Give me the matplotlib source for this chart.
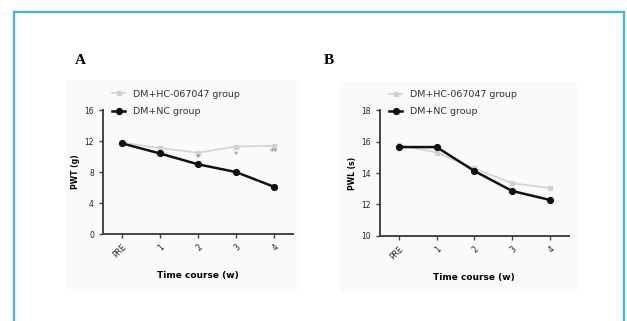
import matplotlib.pyplot as plt
from matplotlib.patches import Rectangle
from matplotlib.lines import Line2D

# data
time_labels = ["PRE", "1", "2", "3", "4"]
pwt_hc = [11.8, 11.1, 10.5, 11.3, 11.4]
pwt_nc = [11.7, 10.4, 9.0, 8.0, 6.1]
pwt_sig = ["", "", "*", "*", "**"]
pwt_sig_y = [None, None, 9.7, 10.2, 10.5]
pwl_hc = [15.8, 15.3, 14.3, 13.35, 13.05]
pwl_nc = [15.65, 15.65, 14.13, 12.86, 12.29]

HC_COLOR = "#d2d2d2"
NC_COLOR = "#111111"
AX_COLOR = "#444444"
FS = 5.5

fig = plt.figure(figsize=(6.27, 3.21), dpi=100)

# blue frame
for xs, ys in [([0.0223, 0.0223], [0, 0.963]), ([0.0223, 0.995], [0.963, 0.963]),
               ([0.995, 0.995], [0, 0.963])]:
    fig.add_artist(Line2D(xs, ys, color="#3bb4e6", lw=1.6, transform=fig.transFigure))

# faint panel backgrounds
fig.add_artist(Rectangle((66 / 627, 1 - 288 / 321), 232 / 627, 208 / 321,
                         transform=fig.transFigure, color="#fafafa", zorder=0))
fig.add_artist(Rectangle((340 / 627, 1 - 290 / 321), 236 / 627, 208 / 321,
                         transform=fig.transFigure, color="#fafafa", zorder=0))

ax_a = fig.add_axes([0.1643, 0.271, 0.303, 0.386])
ax_b = fig.add_axes([0.606, 0.265, 0.301, 0.392])

x = list(range(len(time_labels)))


def style(ax, hc, nc, ylim, yticks, ylabel):
    ax.set_facecolor("none")
    ax.plot(x, hc, color=HC_COLOR, marker="s", ms=3.5, lw=1.2,
            label="DM+HC-067047 group", zorder=2)
    ax.plot(x, nc, color=NC_COLOR, marker="o", ms=4.2, lw=1.8,
            label="DM+NC group", zorder=3)
    ax.set_xlim(-0.5, 4.5)
    ax.set_ylim(*ylim)
    ax.set_yticks(yticks)
    ax.set_xticks(x)
    ax.set_xticklabels(time_labels, rotation=45, ha="right", rotation_mode="anchor")
    for s in ["top", "right"]:
        ax.spines[s].set_visible(False)
    for s in ["left", "bottom"]:
        ax.spines[s].set_linewidth(1.4)
        ax.spines[s].set_color(AX_COLOR)
    ax.tick_params(labelsize=FS, length=3, width=1, colors=AX_COLOR, labelcolor="#222222")
    ax.set_ylabel(ylabel, fontsize=FS, fontweight="bold", labelpad=3)
    ax.set_xlabel("Time course (w)", fontsize=6.5, fontweight="bold", labelpad=8)
    leg = ax.legend(loc="lower left", bbox_to_anchor=(0.03, 0.92), frameon=False,
                    fontsize=6.8, handlelength=1.3, handletextpad=0.9,
                    labelspacing=0.9, borderaxespad=0)
    for t in leg.get_texts():
        t.set_color("#333333")


style(ax_a, pwt_hc, pwt_nc, (0, 16), [0, 4, 8, 12, 16], "PWT (g)")
style(ax_b, pwl_hc, pwl_nc, (10, 18), [10, 12, 14, 16, 18], "PWL (s)")

for xi, s, yv in zip(x, pwt_sig, pwt_sig_y):
    if s:
        ax_a.text(xi, yv, s, ha="center", va="center", fontsize=6, color="#777777")

fig.text(75 / 627, 1 - 60 / 321, "A", fontsize=11, fontweight="bold",
         family="Liberation Serif", va="center")
fig.text(324 / 627, 1 - 60 / 321, "B", fontsize=11, fontweight="bold",
         family="Liberation Serif", va="center")

fig.savefig("out.png", dpi=100)
